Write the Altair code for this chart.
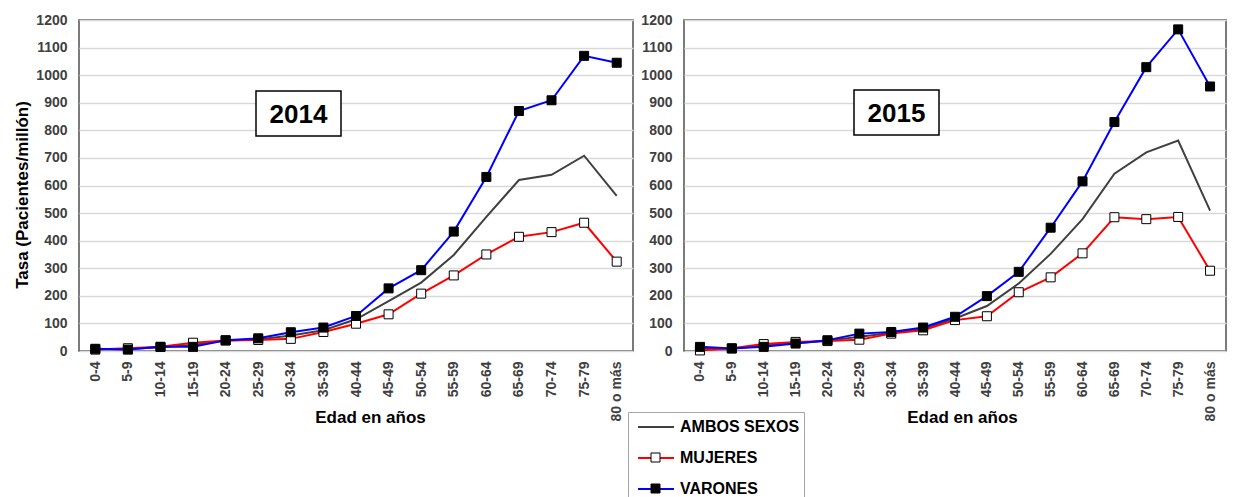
import altair as alt
import pandas as pd

edades = ["0-4", "5-9", "10-14", "15-19", "20-24", "25-29", "30-34", "35-39", "40-44",
          "45-49", "50-54", "55-59", "60-64", "65-69", "70-74", "75-79", "80 o más"]
series = ["AMBOS SEXOS", "MUJERES", "VARONES"]
series_p = [s + " " for s in series]

ambos_2014 = [7, 7, 14, 22, 38, 42, 56, 75, 115, 181, 248, 348, 486, 620, 639, 708, 562]
mujeres_2014 = [5, 10, 15, 30, 38, 40, 44, 69, 99, 133, 208, 274, 350, 414, 431, 465, 324]
varones_2014 = [8, 5, 15, 15, 39, 46, 68, 85, 127, 227, 293, 433, 631, 870, 909, 1070, 1045]

ambos_2015 = [8, 8, 20, 28, 37, 52, 65, 80, 118, 163, 245, 352, 478, 643, 720, 763, 509]
mujeres_2015 = [2, 10, 25, 33, 36, 41, 63, 75, 112, 126, 213, 267, 354, 485, 478, 486, 291]
varones_2015 = [15, 9, 15, 27, 39, 63, 69, 85, 124, 199, 287, 447, 615, 830, 1029, 1166, 959]

y_ticks = list(range(0, 1201, 100))


def long_df(ambos, mujeres, varones):
    rows = []
    for s, sp, vals in zip(series, series_p, [ambos, mujeres, varones]):
        for e, v in zip(edades, vals):
            rows.append({"edad": e, "serie": s, "serie_p": sp, "valor": v})
    return pd.DataFrame(rows)


FONT = "Liberation Sans"
SQUARE = "M-0.45,-0.45H0.45V0.45H-0.45Z"
LINE_SYM = "M-0.5,0H3.1"
W1, W2, H = 554, 542, 331

color_scale = alt.Scale(domain=series, range=["#404040", "#ff0000", "#0000ff"])
fill_scale = alt.Scale(domain=series_p, range=["rgba(0,0,0,0)", "#ffffff", "#000000"])
stroke_scale = alt.Scale(domain=series_p, range=["rgba(0,0,0,0)", "#000000", "#000000"])
shape_scale = alt.Scale(domain=series_p, range=["M0,0", SQUARE, SQUARE])

LX, LY = 549, 392
legend_common = dict(title=None, orient="none", legendY=LY, symbolSize=400,
                     labelFont=FONT, labelFontSize=16, labelFontWeight="bold",
                     labelOffset=26, rowPadding=12, padding=4, labelLimit=400)
legend_lines = alt.Legend(legendX=LX, symbolType=LINE_SYM, symbolStrokeWidth=2,
                          labelColor="black", strokeColor="#a6a6a6", fillColor="white",
                          **legend_common)
legend_points = alt.Legend(legendX=LX + 13, symbolStrokeWidth=1, labelExpr="''",
                           labelColor="rgba(0,0,0,0)", **legend_common)


def panel(df, year, left, box, width, title_x):
    base = alt.Chart(df)
    x = alt.X("edad:N", sort=edades, scale=alt.Scale(type="point", padding=0.5),
              axis=alt.Axis(title="Edad en años", labelAngle=-90, titleFontSize=17,
                            titleBaseline="alphabetic", titleY=71, titleX=title_x))
    if left:
        yaxis = alt.Axis(values=y_ticks, format="d", title="Tasa (Pacientes/millón)",
                         titleY=H / 2 + 9)
    else:
        yaxis = alt.Axis(values=y_ticks, format="d", title=None)
    y = alt.Y("valor:Q", scale=alt.Scale(domain=[0, 1200], nice=False), axis=yaxis)
    lines = base.mark_line(strokeWidth=2).encode(
        x=x, y=y,
        color=alt.Color("serie:N", scale=color_scale, legend=legend_lines),
    )
    points = base.transform_filter(alt.datum.serie != "AMBOS SEXOS").mark_point(
        filled=True, size=400, strokeWidth=1, opacity=1
    ).encode(
        x=x, y=y,
        fill=alt.Fill("serie_p:N", scale=fill_scale, legend=legend_points),
        stroke=alt.Stroke("serie_p:N", scale=stroke_scale, legend=legend_points),
        shape=alt.Shape("serie_p:N", scale=shape_scale, legend=legend_points),
    )
    ydf = pd.DataFrame({"anio": [year]})
    bx0, bx1, by0, by1 = box
    rect = alt.Chart(ydf).mark_rect(fill="white", stroke="black", strokeWidth=1.5).encode(
        x=alt.value(bx0), x2=alt.value(bx1), y=alt.value(by0), y2=alt.value(by1)
    )
    txt = alt.Chart(ydf).mark_text(font=FONT, fontSize=26, fontWeight="bold", color="black",
                                   align="center", baseline="middle").encode(
        x=alt.value((bx0 + bx1) / 2), y=alt.value((by0 + by1) / 2 + 1), text="anio:N"
    )
    return alt.layer(lines, points, rect, txt).properties(width=width, height=H)


left = panel(long_df(ambos_2014, mujeres_2014, varones_2014), "2014", True,
             (177, 262, 71, 116), W1, W1 / 2 + 14)
right = panel(long_df(ambos_2015, mujeres_2015, varones_2015), "2015", False,
              (170, 255, 70, 115), W2, W2 / 2 + 7)

chart = alt.hconcat(left, right, spacing=6).resolve_scale(
    color="shared", fill="shared", stroke="shared", shape="shared"
).configure(
    padding={"top": 4, "left": 5, "right": 0, "bottom": 0}
).configure_view(
    stroke="#505050", strokeWidth=1.5
).configure_axis(
    labelFont=FONT, titleFont=FONT, labelFontWeight="bold", titleFontWeight="bold",
    labelColor="#404040", titleColor="black", domain=False, ticks=False,
    labelFontSize=14, titleFontSize=17
).configure_axisY(
    grid=True, gridColor="#d9d9d9", gridWidth=1.5, labelPadding=12, titlePadding=4
).configure_axisX(
    grid=False, labelPadding=10
)

chart.save("out.html", embed_options={"renderer": "svg", "actions": False})
